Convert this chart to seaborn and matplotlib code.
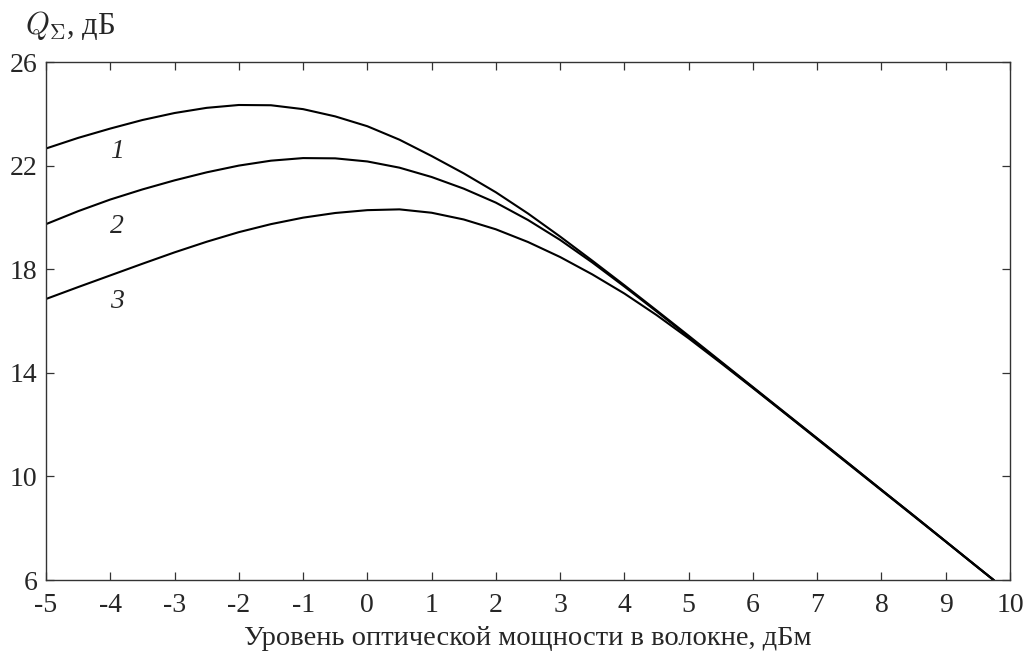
import pandas as pd
import matplotlib
matplotlib.use("Agg")
import matplotlib.pyplot as plt
import seaborn as sns

# power levels in fibre, dBm
power = [-5, -4.5, -4, -3.5, -3, -2.5, -2, -1.5, -1, -0.5, 0, 0.5, 1, 1.5, 2, 2.5,
         3, 3.5, 4, 4.5, 5, 5.5, 6, 6.5, 7, 7.5, 8, 8.5, 9, 9.5, 9.75]

# Q factor, dB
q_curve1 = [22.66, 23.07, 23.43, 23.76, 24.03, 24.23, 24.34, 24.33, 24.18, 23.90, 23.52,
            23.00, 22.37, 21.70, 20.97, 20.15, 19.26, 18.33, 17.38, 16.41, 15.43, 14.44,
            13.45, 12.46, 11.47, 10.48, 9.48, 8.49, 7.49, 6.49, 5.99]
q_curve2 = [19.74, 20.24, 20.69, 21.08, 21.43, 21.74, 22.00, 22.19, 22.29, 22.28, 22.16,
            21.92, 21.56, 21.11, 20.57, 19.90, 19.13, 18.26, 17.33, 16.37, 15.39, 14.41,
            13.43, 12.44, 11.46, 10.47, 9.48, 8.49, 7.49, 6.49, 5.99]
q_curve3 = [16.85, 17.31, 17.76, 18.21, 18.65, 19.06, 19.43, 19.74, 19.99, 20.17, 20.28,
            20.31, 20.18, 19.92, 19.54, 19.05, 18.47, 17.80, 17.06, 16.23, 15.33, 14.38,
            13.41, 12.43, 11.44, 10.45, 9.46, 8.47, 7.48, 6.48, 5.99]

curve_names = ["1", "2", "3"]
label_x = [-3.9, -3.9, -3.9]
label_y = [22.55, 19.65, 16.75]

x_ticks = list(range(-5, 11))
y_ticks = [6, 10, 14, 18, 22, 26]

df = pd.DataFrame({
    "power": power * 3,
    "q": q_curve1 + q_curve2 + q_curve3,
    "curve": [n for n in curve_names for _ in power],
})

sns.set_theme(style="ticks")
plt.rcParams["font.family"] = ["Liberation Serif", "DejaVu Serif"]
plt.rcParams["mathtext.fontset"] = "cm"
plt.rcParams["axes.unicode_minus"] = False
plt.rcParams["xtick.direction"] = "in"
plt.rcParams["ytick.direction"] = "in"

fig = plt.figure(figsize=(10.29, 6.55), dpi=100)
ax = fig.add_axes([46 / 1029, 1 - 580 / 655, 964 / 1029, 518 / 655])

sns.lineplot(data=df, x="power", y="q", hue="curve", units="curve", estimator=None,
             palette=["black"] * 3, linewidth=1.5, legend=False, ax=ax)

for name, lx, ly in zip(curve_names, label_x, label_y):
    ax.text(lx, ly, name, fontsize=20, style="italic", ha="center", va="center")

ax.set_xlim(-5, 10)
ax.set_ylim(6, 26)
ax.set_xticks(x_ticks)
ax.set_yticks(y_ticks)
ax.tick_params(axis="both", which="both", length=6, width=0.9, labelsize=20,
               top=True, right=True, color="#333333")
ax.tick_params(axis="x", pad=9)
ax.tick_params(axis="y", pad=6)
for s in ax.spines.values():
    s.set_visible(True)
    s.set_linewidth(1.0)
    s.set_color("#333333")

ax.set_xlabel("Уровень оптической мощности в волокне, дБм", fontsize=20.5, labelpad=6)
ax.set_ylabel("")
fig.text(25 / 1029, 1 - 34 / 655, r"$Q_\Sigma$, дБ", fontsize=22, ha="left", va="baseline")

plt.savefig("out.png", dpi=100)
